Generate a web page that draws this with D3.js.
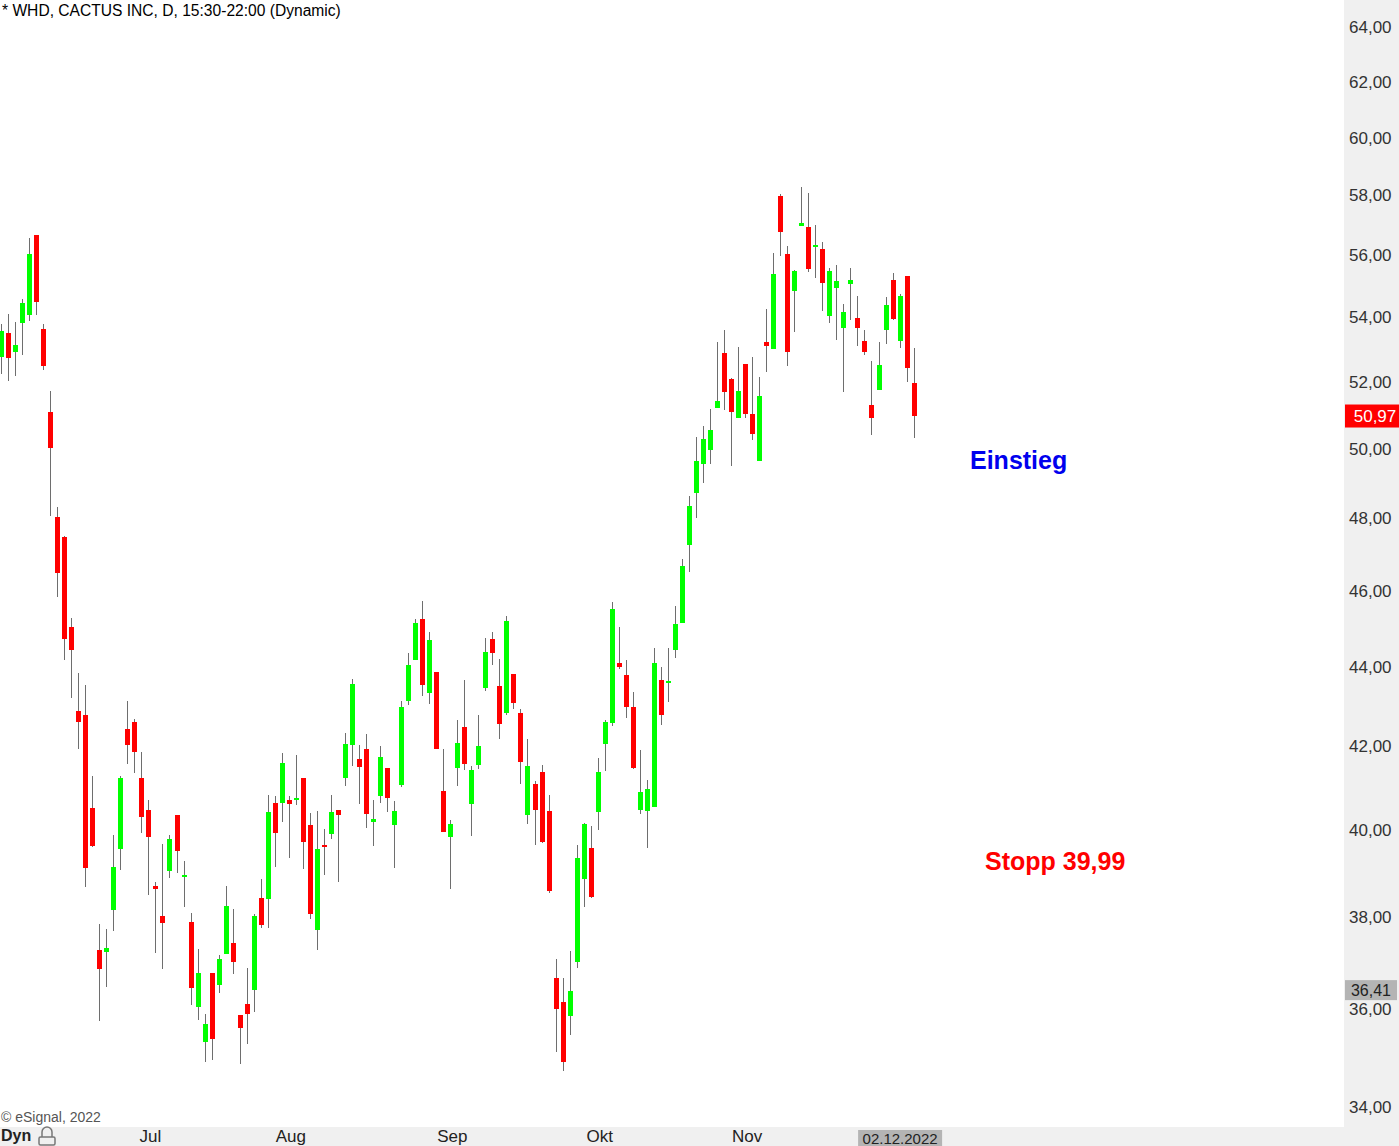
<!DOCTYPE html>
<html><head><meta charset="utf-8">
<script src="https://cdn.jsdelivr.net/npm/d3@7"></script>
<style>html,body{margin:0;padding:0;background:#fff;overflow:hidden}</style>
</head><body>
<svg id="chart" width="1399" height="1146"></svg>
<script>
const title = "* WHD, CACTUS INC, D, 15:30-22:00 (Dynamic)";
const copyright = "© eSignal, 2022";

const openP = [52.75,53.52,52.91,53.84,54.09,56.68,53.64,51.10,48.04,47.49,
45.03,42.89,42.77,40.52,37.27,37.23,38.15,39.54,42.44,42.61,
41.24,40.47,38.69,38.03,39.04,40.34,38.90,37.90,36.06,35.32,
36.77,36.52,37.19,37.42,35.89,36.12,36.41,38.44,38.40,40.64,
40.62,40.69,40.72,41.22,40.11,37.71,39.65,39.89,40.47,41.22,
42.03,41.70,41.94,40.17,40.79,41.47,40.10,41.06,43.13,44.17,
45.26,43.33,43.87,40.91,39.83,41.46,42.49,40.60,41.54,43.45,
44.74,43.52,42.82,43.82,42.82,40.34,41.08,41.38,40.45,36.66,
36.16,35.87,37.01,38.86,39.58,40.41,42.07,42.57,44.11,43.80,
42.97,40.46,40.43,40.53,43.67,43.60,44.43,45.14,47.25,48.71,
49.57,49.97,51.20,52.90,52.09,50.90,52.56,51.04,49.63,53.24,
53.00,57.98,56.05,54.83,56.96,56.95,56.30,56.21,54.06,54.93,
53.68,55.06,53.98,53.27,51.31,51.74,53.59,55.21,53.25,55.34,
51.97];
const highP = [53.80,54.11,53.86,54.60,56.58,56.68,53.80,51.73,48.33,47.52,
45.29,43.85,43.55,41.27,37.85,37.74,39.88,41.27,43.14,42.69,
41.87,40.71,38.80,39.66,39.88,40.34,39.27,38.10,37.29,35.91,
36.77,37.16,38.71,38.19,35.89,36.88,38.06,38.87,40.83,40.79,
41.84,40.80,41.79,41.24,40.38,40.45,40.02,40.83,40.47,42.33,
43.70,42.04,42.31,40.69,42.01,41.47,40.67,43.12,44.37,45.26,
45.74,44.92,43.87,41.94,40.23,42.66,43.67,41.53,42.77,44.76,
44.90,44.21,45.34,43.82,42.92,42.19,41.15,41.55,40.83,37.09,
36.66,37.25,39.63,40.16,40.09,41.72,42.66,45.71,45.05,44.18,
43.35,41.92,41.18,44.48,44.01,44.48,45.61,46.86,48.65,50.35,
50.68,51.19,53.24,53.61,52.12,53.08,52.56,52.77,52.15,54.27,
56.08,58.05,56.31,55.53,58.29,58.09,57.02,56.45,55.59,55.69,
54.43,55.59,54.69,53.61,52.65,53.24,54.66,55.43,54.76,55.34,
53.05];
const lowP = [52.25,52.04,52.19,52.81,53.90,54.09,52.35,48.08,45.83,44.17,
43.20,41.94,38.67,39.59,35.75,36.47,37.69,39.06,41.56,41.34,
39.91,38.49,37.21,36.86,38.88,38.99,38.22,36.10,35.78,34.91,
34.95,36.34,37.19,36.75,34.87,35.28,35.95,37.75,37.77,39.13,
40.17,39.34,40.58,39.09,37.97,37.27,38.95,39.79,38.79,41.03,
41.51,40.60,40.05,39.61,40.62,40.41,39.11,41.01,43.02,44.17,
43.27,43.05,41.94,39.95,38.63,41.03,41.42,39.84,41.44,43.38,
44.06,42.19,42.77,42.92,41.08,40.14,39.63,39.68,38.54,35.11,
34.72,35.46,36.88,38.22,38.42,39.98,41.39,42.50,43.96,42.70,
41.44,40.36,39.57,40.53,42.52,43.10,44.22,45.14,46.51,48.02,
49.02,49.57,51.20,51.14,49.49,50.90,50.90,50.27,49.63,52.29,
53.00,55.99,52.50,53.53,56.96,55.47,55.25,54.22,53.81,53.28,
51.68,53.93,53.12,52.84,50.42,51.74,53.16,53.93,53.03,52.01,
50.33];
const closeP = [53.58,52.72,53.15,54.47,56.05,54.48,52.50,50.03,46.48,44.72,
44.43,42.60,39.11,39.61,36.86,37.33,39.13,41.24,42.04,41.85,
40.29,39.82,38.63,37.86,39.77,39.50,38.95,36.45,36.77,35.70,
35.38,37.07,38.26,37.01,35.61,35.91,38.03,37.82,40.42,39.93,
41.60,40.60,40.76,39.70,38.06,39.54,39.61,40.42,40.34,42.06,
43.57,41.49,40.36,40.24,41.75,40.74,40.45,42.97,44.05,45.16,
43.55,44.71,41.94,39.95,40.14,42.09,41.56,41.43,42.01,44.40,
44.35,42.55,45.19,43.08,41.61,41.53,40.46,39.70,38.58,36.00,
34.91,36.40,39.35,40.14,38.45,41.38,42.61,45.53,44.01,42.97,
41.46,40.88,40.96,44.11,42.77,43.65,45.13,46.69,48.36,49.65,
50.29,50.56,51.43,51.68,51.08,51.73,51.02,50.45,51.58,53.12,
55.40,56.76,52.91,55.50,57.08,55.54,56.35,55.09,55.50,55.18,
54.18,55.21,53.68,52.91,50.90,52.52,54.40,53.96,54.69,52.41,
50.97];

const priceTicks = [34,36,38,40,42,44,46,48,50,52,54,56,58,60,62,64];
const monthLabels = ["Jul","Aug","Sep","Okt","Nov"];
const monthStartIdx = [23,43,66,87,108];
const lastDateLabel = "02.12.2022";
const lastPrice = 50.97;
const markerPrice = 36.41;
const notes = [
  {text:"Einstieg", color:"#0000ee", x:970, y:469},
  {text:"Stopp 39,99", color:"#ff0000", x:985, y:870}
];

const W = 1399, H = 1146, plotR = 1344, plotB = 1127;
const font = "'Liberation Sans', Arial, sans-serif";
const svg = d3.select("#chart").style("font-family", font);

svg.append("rect").attr("x",0).attr("y",0).attr("width",W).attr("height",H).attr("fill","#fff");
svg.append("rect").attr("x",plotR).attr("y",0).attr("width",W-plotR).attr("height",H).attr("fill","#f0f0f0");
svg.append("rect").attr("x",0).attr("y",plotB).attr("width",W).attr("height",H-plotB).attr("fill","#f0f0f0");

const n = closeP.length;
const x = d3.scaleLinear().domain([0, n-1]).range([1.5, 914.1]);
const y = d3.scaleLog().domain([34, 64]).range([1107, 27.5]);

const candles = d3.range(n).map(i => ({i, o:openP[i], h:highP[i], l:lowP[i], c:closeP[i]}));
const cg = svg.append("g").attr("shape-rendering","crispEdges");
cg.selectAll("rect.wick").data(candles).join("rect").attr("class","wick")
  .attr("x", d => Math.floor(x(d.i)))
  .attr("y", d => y(d.h))
  .attr("width", 1)
  .attr("height", d => y(d.l) - y(d.h))
  .attr("fill", "#6e6e6e");
cg.selectAll("rect.body").data(candles).join("rect").attr("class","body")
  .attr("x", d => Math.floor(x(d.i)) - 2)
  .attr("width", 5)
  .attr("y", d => Math.min(y(d.o), y(d.c)))
  .attr("height", d => Math.max(2, Math.abs(y(d.o) - y(d.c))))
  .attr("fill", d => d.c >= d.o ? "#00ff00" : "#ff0000");

// price axis
const fmt = v => d3.format(".2f")(v).replace(".", ",");
const ya = svg.append("g").attr("transform", `translate(${plotR},0)`)
  .call(d3.axisRight(y).tickValues(priceTicks).tickFormat(fmt).tickSize(0).tickPadding(5));
ya.select(".domain").remove();
ya.selectAll("text").attr("font-size", 17).attr("fill", "#333").attr("font-family", font);

// marker box 36,41
const my = y(markerPrice);
svg.append("rect").attr("x",1345).attr("y",my-10).attr("width",52).attr("height",20).attr("fill","#b4b4b4");
svg.append("text").attr("x",1371).attr("y",my+6).attr("text-anchor","middle")
  .attr("font-size",16).attr("fill","#222").text(fmt(markerPrice));

// last price box
const ly = y(lastPrice);
svg.append("rect").attr("x",1345).attr("y",ly-11.5).attr("width",54).attr("height",23).attr("fill","#ff0000");
svg.append("text").attr("x",1375).attr("y",ly+6).attr("text-anchor","middle")
  .attr("font-size",17).attr("fill","#fff").text(fmt(lastPrice));

// time axis
const xa = svg.append("g").attr("transform", `translate(0,${plotB})`)
  .call(d3.axisBottom(x).tickValues(monthStartIdx).tickFormat((d,i) => monthLabels[i]).tickSize(0).tickPadding(0));
xa.select(".domain").remove();
xa.selectAll("text").attr("font-size",17).attr("fill","#222").attr("font-family", font)
  .attr("text-anchor","middle").attr("dy", null).attr("y", 15).attr("dx", -13);

// date box
svg.append("rect").attr("x", x(n-1)-56).attr("y", 1130).attr("width", 84).attr("height", 16).attr("fill", "#b4b4b4");
svg.append("text").attr("x", x(n-1)-14).attr("y", 1144).attr("text-anchor","middle")
  .attr("font-size",15).attr("fill","#222").text(lastDateLabel);

// Dyn + lock
svg.append("text").attr("x",1).attr("y",1141).attr("font-size",16).attr("font-weight","bold").attr("fill","#222").text("Dyn");
const lock = svg.append("g").attr("fill","none").attr("stroke","#777").attr("stroke-width",1.5);
lock.append("path").attr("d","M42,1137 V1132 A5,5 0 0 1 52,1132 V1137");
lock.append("rect").attr("x",39).attr("y",1137).attr("width",16).attr("height",8).attr("rx",1.5);

// title & copyright
svg.append("text").attr("x",2).attr("y",16).attr("font-size",15.6).attr("fill","#000").text(title);
svg.append("text").attr("x",1).attr("y",1122).attr("font-size",14).attr("fill","#555").text(copyright);

// notes
svg.selectAll("text.note").data(notes).join("text").attr("class","note")
  .attr("x", d => d.x).attr("y", d => d.y)
  .attr("font-size", 25).attr("font-weight", "bold")
  .attr("fill", d => d.color).text(d => d.text);
</script>
</body></html>
